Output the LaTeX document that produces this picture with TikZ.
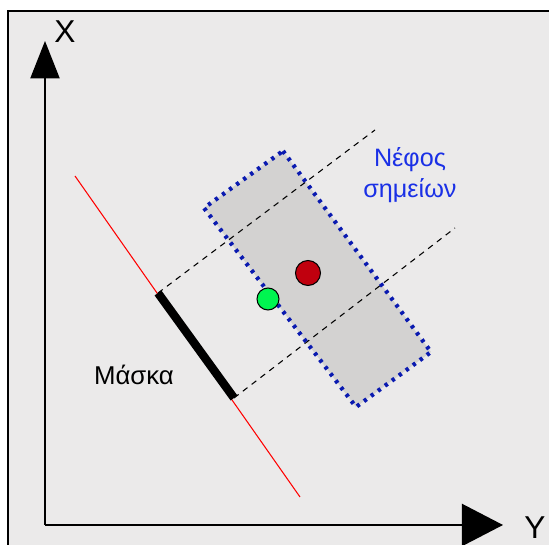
\documentclass[tikz,border=0pt]{standalone}
\usepackage{fontspec}
\setmainfont{Liberation Sans}
\usetikzlibrary{arrows.meta}

\definecolor{bggray}{HTML}{EBEAEA}
\definecolor{cloudgray}{HTML}{D3D2D1}
\definecolor{dotblue}{HTML}{0A1AB0}
\definecolor{txtblue}{HTML}{1A30E6}
\definecolor{ptred}{HTML}{C0000E}
\definecolor{ptgreen}{HTML}{00F550}

\begin{document}
\begin{tikzpicture}[x=0.03cm,y=0.03cm,>=Latex]
  \useasboundingbox (0,0) rectangle (549,545);

  % ================= frame =================
  \fill[bggray] (8,0) rectangle (549,534);
  \draw[line width=2.2pt] (8,0) -- (8,534) -- (549,534);

  % ================= axes =================
  \coordinate (O) at (45,20);
  \coordinate (Xtip) at (45,504);
  \coordinate (Ytip) at (503,20);
  \draw[line width=1.2pt,-{Triangle[length=32pt,width=25pt]}] (O) -- (Xtip);
  \draw[line width=1.2pt,-{Triangle[length=35pt,width=36pt]}] (O) -- (Ytip);
  \node[font=\fontsize{27}{30}\selectfont] (xlab) at (65,513) {X};
  \node[font=\fontsize{27}{30}\selectfont] (ylab) at (535,17) {Y};

  % ================= projection line and mask =================
  \coordinate (L1) at (75,369);
  \coordinate (L2) at (300,48);
  \draw[red,line width=0.9pt] (L1) -- (L2);
  \coordinate (M1) at (158,252);
  \coordinate (M2) at (234,147);
  \draw[line width=7.2pt] (M1) -- (M2);
  \node[font=\fontsize{22}{26}\selectfont] (mask) at (134,170) {Μάσκα};

  % ================= point cloud =================
  \coordinate (Ctop) at (283,394);
  \coordinate (Cright) at (431,193);
  \coordinate (Cbot) at (356,138);
  \coordinate (Cleft) at (204,337);
  \fill[cloudgray] (Ctop) -- (Cright) -- (Cbot) -- (Cleft) -- cycle;

  % dashed projection lines
  \coordinate (D1) at (375,415);
  \coordinate (D2) at (455,317);
  \draw[dash pattern=on 5pt off 4.5pt,line width=0.9pt] (M1) -- (D1);
  \draw[dash pattern=on 5pt off 4.5pt,line width=0.9pt] (M2) -- (D2);

  \draw[dotblue,line width=3.6pt,dash pattern=on 2.8pt off 4.6pt]
    (Ctop) -- (Cright) -- (Cbot) -- (Cleft) -- cycle;

  \node[font=\fontsize{21.5}{27}\selectfont,align=center,txtblue] (cloud) at (410,370)
    {Νέφος\\σημείων};

  % ================= points =================
  \draw[fill=ptred,line width=0.9pt] (308,272) circle (12.5);
  \draw[fill=ptgreen,line width=0.9pt] (268,246) circle (11);

\end{tikzpicture}
\end{document}
